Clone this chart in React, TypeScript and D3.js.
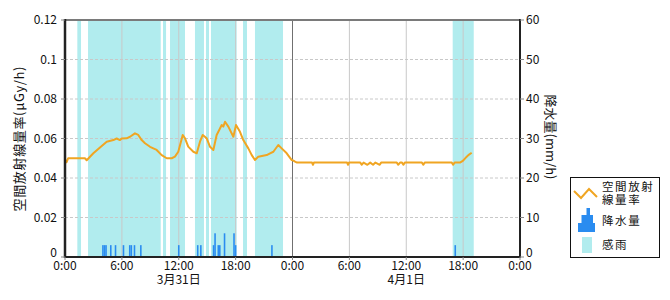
import React from "react";
import * as d3 from "d3";

// ---- data ----
const doseHours = [
  0, 0.17, 0.33, 2.1, 2.29, 2.99, 3.69, 4.4, 5.1, 5.45, 5.8, 5.98, 6.5, 6.86, 7.38, 7.73, 8.09, 8.44, 8.97, 9.67,
  10.2, 10.73, 11.26, 11.6, 11.95, 12.42, 12.66, 13.0, 13.54, 13.9, 14.24, 14.53, 14.95, 15.3, 15.65, 16.0, 16.35,
  16.53, 16.7, 16.88, 17.23, 17.76, 18.04, 18.46, 18.81, 19.34, 19.7, 20.04, 20.39, 21.28, 21.63, 21.98, 22.5, 22.86,
  23.39, 23.92, 24.1, 24.27, 24.48,
  26.06, 26.16, 26.26, 29.76, 29.86, 29.96,
  31.15, 31.3, 31.5, 31.9, 32.2, 32.5, 32.75, 33.2, 33.35,
  35.0, 35.15, 35.35, 35.55, 35.7, 35.85,
  37.65, 37.8, 37.95,
  40.8, 40.95, 41.1, 41.67, 42.0, 42.38, 42.55, 42.9,
];
const doseValues = [
  0.0494, 0.048, 0.05, 0.05, 0.049, 0.0525, 0.0555, 0.0584, 0.0592, 0.06, 0.0592, 0.06, 0.0601, 0.0609, 0.0626, 0.0618,
  0.0592, 0.0576, 0.0558, 0.0542, 0.0516, 0.05, 0.05, 0.0508, 0.0533, 0.0618, 0.0601, 0.0559, 0.0533, 0.0525, 0.0584,
  0.0618, 0.0601, 0.0558, 0.0542, 0.0618, 0.0651, 0.0668, 0.066, 0.0685, 0.066, 0.0609, 0.0668, 0.0634, 0.0592, 0.055,
  0.0516, 0.0491, 0.0508, 0.0516, 0.0525, 0.0533, 0.0567, 0.055, 0.0525, 0.0491, 0.0488, 0.0483, 0.0478,
  0.0478, 0.0467, 0.0478, 0.0478, 0.0467, 0.0478,
  0.0478, 0.0467, 0.0478, 0.0467, 0.0478, 0.0467, 0.0478, 0.0467, 0.0478,
  0.0478, 0.0467, 0.0478, 0.0478, 0.0467, 0.0478,
  0.0478, 0.0467, 0.0478,
  0.0478, 0.0467, 0.0478, 0.0478, 0.0488, 0.0508, 0.0516, 0.0528,
];

const rainHours = [4.0, 4.17, 4.33, 4.83, 5.33, 6.17, 6.83, 7.0, 7.33, 8.0, 12.0, 14.0, 14.33, 15.67, 15.83, 16.17, 16.33, 16.83, 17.83, 18.0, 21.83, 41.17];
const rainValues = [3, 3, 3, 3, 3, 3, 3, 3, 3, 3, 3, 3, 3, 3, 6, 3, 3, 6, 6, 3, 3, 3];

const senseStart = [1.3, 2.43, 10.34, 11.08, 13.71, 14.87, 15.4, 18.78, 20.04, 40.9];
const senseEnd = [1.69, 10.1, 10.66, 12.66, 14.66, 15.19, 18.1, 19.2, 23.0, 43.12];

const leftTicks = [0, 0.02, 0.04, 0.06, 0.08, 0.1, 0.12];
const leftTickLabels = ["0", "0.02", "0.04", "0.06", "0.08", "0.1", "0.12"];
const rightTicks = [0, 10, 20, 30, 40, 50, 60];
const xTickHours = [0, 6, 12, 18, 24, 30, 36, 42, 48];
const xTickLabels = ["0:00", "6:00", "12:00", "18:00", "0:00", "6:00", "12:00", "18:00", "0:00"];
const dateHours = [12, 36];
const dateLabels = ["3月31日", "4月1日"];

const FONT = "'Noto Sans CJK JP', 'DejaVu Sans', sans-serif";

export default function App() {
  const L = 65, R = 520, T = 20, B = 257;
  const x = d3.scaleLinear().domain([0, 48]).range([L, R]);
  const y = d3.scaleLinear().domain([0, 0.12]).range([B, T]);
  const yR = d3.scaleLinear().domain([0, 60]).range([B, T]);
  const pts = doseHours.map((h, i) => [h, doseValues[i]] as [number, number]);
  const line = d3.line<[number, number]>().x((d) => x(d[0])).y((d) => y(d[1]));
  const barW = x(1 / 6) - x(0);

  return (
    <div style={{ position: "absolute", left: 0, top: 0 }}>
      <svg width={670} height={300} style={{ display: "block", fontFamily: FONT }}>
        <rect x={0} y={0} width={670} height={300} fill="#fff" />
        {/* rain sensor bands */}
        {senseStart.map((s, i) => (
          <rect key={"b" + i} x={x(s)} y={T} width={x(senseEnd[i]) - x(s)} height={B - T} fill="#b1ecee" />
        ))}
        {/* horizontal grid */}
        {leftTicks.slice(1, -1).map((t, i) => (
          <line key={"h" + i} x1={L} x2={R} y1={y(t)} y2={y(t)} stroke="#c8c8c8" strokeDasharray="3,2" />
        ))}
        {/* vertical grid */}
        {xTickHours.slice(1, -1).map((h, i) => (
          <line key={"v" + i} x1={x(h)} x2={x(h)} y1={T} y2={B} stroke={h === 24 ? "#707070" : "#c8c8c8"} strokeWidth={1} />
        ))}
        {/* rain bars */}
        {rainHours.map((h, i) => (
          <rect key={"r" + i} x={x(h) - barW / 2} y={yR(rainValues[i])} width={barW} height={B - yR(rainValues[i])} fill="#2a8cf0" />
        ))}
        {/* dose line */}
        <path d={line(pts) || ""} fill="none" stroke="#f0a522" strokeWidth={2} strokeLinejoin="round" />
        {/* frame */}
        <line x1={L} x2={R} y1={T} y2={T} stroke="#7a7a7a" strokeWidth={2} />
        <line x1={L} x2={L} y1={T - 1} y2={B + 1} stroke="#222" strokeWidth={2.5} />
        <line x1={R} x2={R} y1={T - 1} y2={B + 1} stroke="#222" strokeWidth={2} />
        <line x1={L} x2={R} y1={B} y2={B} stroke="#222" strokeWidth={2} />
        {/* left ticks */}
        {leftTicks.map((t, i) => (
          <g key={"lt" + i}>
            <line x1={L - 4} x2={L} y1={y(t)} y2={y(t)} stroke="#888" />
            <text x={57} y={t === 0 ? y(t) - 4 : y(t)} dy="0.35em" textAnchor="end" fontSize={12} fill="#111">{leftTickLabels[i]}</text>
          </g>
        ))}
        {/* right ticks */}
        {rightTicks.map((t, i) => (
          <g key={"rt" + i}>
            <line x1={R} x2={R + 4} y1={yR(t)} y2={yR(t)} stroke="#888" />
            <text x={526} y={t === 0 ? yR(t) - 4 : yR(t)} dy="0.35em" textAnchor="start" fontSize={12} fill="#111">{t}</text>
          </g>
        ))}
        {/* x ticks */}
        {xTickHours.map((h, i) => (
          <g key={"xt" + i}>
            <line x1={x(h)} x2={x(h)} y1={B} y2={B + 3} stroke="#888" />
            <text x={x(h)} y={266} dy="0.35em" textAnchor="middle" fontSize={12} fill="#111">{xTickLabels[i]}</text>
          </g>
        ))}
        {dateHours.map((h, i) => (
          <text key={"d" + i} x={x(h)} y={280} dy="0.35em" textAnchor="middle" fontSize={12} fill="#111">{dateLabels[i]}</text>
        ))}
        {/* axis titles */}
        <text transform="translate(19,139) rotate(-90)" textAnchor="middle" dy="0.35em" fontSize={13} fill="#111" textLength={145} lengthAdjust="spacing">空間放射線量率(μGy/h)</text>
        <text transform="translate(551,137) rotate(90)" textAnchor="middle" dy="0.35em" fontSize={13} fill="#111">降水量(mm/h)</text>
        {/* legend */}
        <rect x={570.5} y={177.5} width={89} height={80} fill="#fff" stroke="#111" strokeWidth={1} />
        <polyline points="574,191 581,198 589,189 597,197" fill="none" stroke="#f0a522" strokeWidth={2} />
        <text x={602} y={187} dy="0.35em" fontSize={11.5} letterSpacing={1.6} fill="#111">空間放射</text>
        <text x={602} y={200} dy="0.35em" fontSize={11.5} letterSpacing={1.6} fill="#111">線量率</text>
        <path d="M586.5,208 H590 V215 H593 V223 H595 V232 H578 V223 H581.5 V215 H586.5 Z" fill="#2a8cf0" />
        <text x={602} y={221} dy="0.35em" fontSize={11.5} letterSpacing={1.6} fill="#111">降水量</text>
        <rect x={582} y={237} width={10} height={16} fill="#b1ecee" />
        <text x={602} y={245} dy="0.35em" fontSize={11.5} letterSpacing={1.6} fill="#111">感雨</text>
      </svg>
    </div>
  );
}
